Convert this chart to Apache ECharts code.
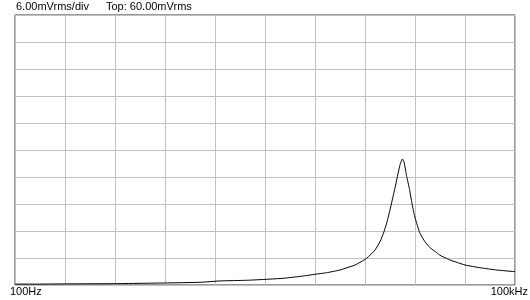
<!DOCTYPE html>
<html>
<head>
<meta charset="utf-8">
<script src="https://cdn.jsdelivr.net/npm/echarts@6/dist/echarts.min.js"></script>
<style>html,body{margin:0;padding:0;background:#fff}#c{width:530px;height:300px}</style>
</head>
<body>
<div id="c"></div>
<script>
// Frequencies in Hz (log axis 100 Hz .. 100 kHz, 10 divisions)
var freqsHz = [100, 141, 200, 398, 794, 1288, 1698, 2455, 3236, 4074, 5370, 6310, 7413, 8913, 9550, 10965, 12882, 14454, 15488, 16368, 17061, 17783, 19055, 20417, 21100, 21580, 22400, 23210, 23988, 24770, 25704, 26915, 28840, 30903, 33890, 35481, 38905, 40738, 50119, 61660, 77625, 100000];
// Amplitude in mVrms
var amplitudeMv = [0.2, 0.2, 0.25, 0.3, 0.45, 0.6, 0.9, 1.05, 1.27, 1.49, 2.0, 2.38, 2.73, 3.33, 3.7, 4.44, 5.93, 7.78, 9.62, 11.84, 14.0, 16.7, 21.6, 26.7, 28.0, 27.4, 24.1, 21.5, 18.5, 15.9, 13.7, 11.5, 9.6, 8.3, 7.2, 6.6, 5.9, 5.55, 4.45, 3.84, 3.33, 2.96];
var scaleText = "6.00mVrms/div";
var topText = "Top: 60.00mVrms";
var xStartLabel = "100Hz";
var xEndLabel = "100kHz";
var fMin = 100, decadesPerDiv = 0.3;

var pts = freqsHz.map(function (f, i) {
  return [Math.log10(f / fMin) / decadesPerDiv, amplitudeMv[i]];
});

var chart = echarts.init(document.getElementById('c'), null, {renderer: 'canvas'});
var font = '"Liberation Sans", Arial, sans-serif';
chart.setOption({
  animation: false,
  backgroundColor: '#ffffff',
  grid: {left: 15, top: 15, width: 500, height: 270, show: true, borderColor: '#333333', borderWidth: 1, backgroundColor: 'transparent'},
  xAxis: {
    type: 'value', min: 0, max: 10, interval: 1,
    axisLine: {show: false}, axisTick: {show: false}, axisLabel: {show: false},
    splitLine: {show: true, lineStyle: {color: '#c0c0c0', width: 1}}
  },
  yAxis: {
    type: 'value', min: 0, max: 60, interval: 6,
    axisLine: {show: false}, axisTick: {show: false}, axisLabel: {show: false},
    splitLine: {show: true, lineStyle: {color: '#c0c0c0', width: 1}}
  },
  series: [{
    type: 'line', data: pts, showSymbol: false, smooth: 0.15,
    lineStyle: {color: '#000000', width: 1}, z: 5
  }],
  graphic: [
    {type: 'text', left: 16, top: 1, style: {text: scaleText, fill: '#000', font: '11px ' + font}},
    {type: 'text', left: 106, top: 1, style: {text: topText, fill: '#000', font: '11px ' + font}},
    {type: 'text', left: 10, top: 286, style: {text: xStartLabel, fill: '#000', font: '11px ' + font}},
    {type: 'text', right: 2, top: 286, style: {text: xEndLabel, fill: '#000', font: '11px ' + font}}
  ]
});
</script>
</body>
</html>
